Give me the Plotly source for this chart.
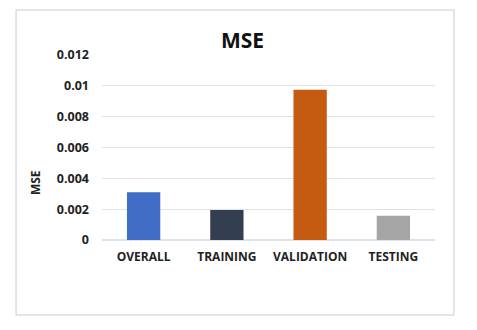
import plotly.graph_objects as go

# data
categories = ["OVERALL", "TRAINING", "VALIDATION", "TESTING"]
mse_values = [0.0031, 0.00195, 0.00975, 0.00157]
bar_colors = ["#416DC6", "#333F50", "#C55A11", "#A5A5A5"]
tick_vals = [0, 0.002, 0.004, 0.006, 0.008, 0.01, 0.012]
tick_text = ["0", "0.002", "0.004", "0.006", "0.008", "0.01", "0.012"]

font_family = "Open Sans, Lato, sans-serif"

fig = go.Figure(go.Bar(x=categories, y=mse_values, marker={"color": bar_colors, "line": {"width": 0}}))

# page body has an 8px margin, so the figure is 8px smaller and shifted
fig.update_layout(
    width=469, height=322,
    margin=dict(l=94, r=42, t=47, b=90),
    paper_bgcolor="white", plot_bgcolor="white",
    bargap=0.6, showlegend=False,
    font=dict(family=font_family, color="#222222"),
    title=dict(text="<b>MSE</b>", x=0.5, xanchor="center", y=0.9, yanchor="middle",
               font=dict(size=21, color="#111111", family=font_family)),
    xaxis=dict(showgrid=False, showline=False, ticks="", ticklabelstandoff=8,
               tickfont=dict(size=12, color="#222222", family=font_family),
               tickvals=categories, ticktext=["<b>%s</b>" % c for c in categories]),
    yaxis=dict(range=[0, 0.012], tickvals=tick_vals, ticktext=["<b>%s</b>" % t for t in tick_text],
               showgrid=True, gridcolor="#dde2ec", gridwidth=1, zeroline=True, zerolinecolor="#dde2ec",
               ticklabelstandoff=12, tickfont=dict(size=12.5, color="#222222", family=font_family)),
)

# y axis title sits a bit below the middle in the original
fig.add_annotation(text="<b>MSE</b>", xref="paper", yref="paper", x=-0.201, y=0.308,
                   textangle=-90, showarrow=False, xanchor="center", yanchor="middle",
                   font=dict(size=12, color="#222222", family=font_family))

# outer chart border
fig.add_shape(type="rect", xref="paper", yref="paper", x0=-0.258, x1=1.057, y0=-0.405, y1=1.243,
              line=dict(color="#d9dde3", width=1.5), fillcolor="rgba(0,0,0,0)", layer="below")

fig.write_html("out.html")
